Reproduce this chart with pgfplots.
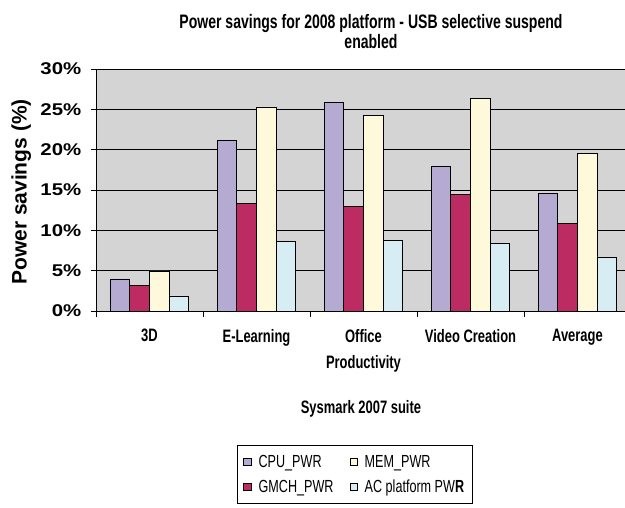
\documentclass[border=0pt]{standalone}
\usepackage{fontspec}
\setmainfont{Liberation Sans}
\newfontfamily\narrowfont{Liberation Sans}[FakeStretch=0.72]
\newfontfamily\widefont{Liberation Sans}[FakeStretch=1.2]
\usepackage{pgfplots}
\pgfplotsset{compat=1.18}

\definecolor{plotgray}{RGB}{212,212,212}
\definecolor{cpucol}{RGB}{180,170,210}
\definecolor{gmchcol}{RGB}{188,44,99}
\definecolor{memcol}{RGB}{255,249,219}
\definecolor{accol}{RGB}{216,236,243}

% small outlined squares for the legend
\pgfplotsset{sqlegend/.style={legend image code/.code={%
  \draw[##1,draw=black,line width=0.8pt] (0pt,-3.7pt) rectangle (7.4pt,3.7pt);}}}

\begin{document}
\begin{tikzpicture}
\useasboundingbox (0pt,0pt) rectangle (625pt,-508pt);
\fill[white] (0pt,0pt) rectangle (625pt,-508pt);
\clip (0pt,0pt) rectangle (625pt,-508pt);
\begin{axis}[
  at={(96pt,-311pt)}, anchor=south west,
  scale only axis, width=535pt, height=242pt,
  xmin=-0.5, xmax=4.5, ymin=0, ymax=30,
  ybar=0pt, bar width=19.6pt,
  axis background/.style={fill=plotgray},
  axis x line=bottom, axis y line=left,
  axis line style={-, line width=0.8pt, black},
  tick align=outside, major tick length=5pt,
  ymajorgrids, grid style={black, line width=0.8pt},
  ytick={0,5,...,30},
  yticklabels={0\%,5\%,10\%,15\%,20\%,25\%,30\%},
  y tick style={black, line width=0.8pt},
  yticklabel style={font=\widefont\bfseries\fontsize{17}{17}\selectfont,
    inner sep=0pt, anchor=east, xshift=-9.5pt},
  xtick={0,...,4},
  xticklabels={3D, E-Learning, Office\\Productivity, Video Creation, Average},
  x tick style={draw=none},
  xticklabel style={font=\narrowfont\bfseries\fontsize{18}{26}\selectfont,
    align=center, inner sep=0pt, anchor=north, yshift=-13pt},
  extra x ticks={-0.5,0.5,1.5,2.5,3.5,4.5},
  extra x tick labels={},
  extra x tick style={major tick length=6pt,
    x tick style={draw=black, line width=0.8pt}, grid=none},
  title={Power savings for 2008 platform - USB selective suspend\\enabled},
  title style={at={(0.514,1.2)}, anchor=north, align=center, inner sep=0pt,
    font=\narrowfont\bfseries\fontsize{19.5}{20}\selectfont},
  ylabel={Power savings (\%)},
  ylabel style={at={(-0.1398,0.4917)}, anchor=center, inner sep=0pt,
    font=\bfseries\fontsize{21}{21}\selectfont},
  xlabel={Sysmark 2007 suite},
  xlabel style={at={(0.4953,-0.4215)}, anchor=base, inner sep=0pt,
    font=\narrowfont\bfseries\fontsize{18}{18}\selectfont},
  legend columns=2, transpose legend,
  legend cell align=left,
  legend style={at={(0.2636,-0.5517)}, anchor=north west,
    draw=black, line width=0.8pt, fill=white,
    font=\narrowfont\fontsize{17.5}{17.5}\selectfont,
    inner xsep=6pt, inner ysep=8pt, row sep=7pt,
    /tikz/every odd column/.append style={column sep=5pt},
    /tikz/every even column/.append style={column sep=14pt}},
]
\addplot[fill=cpucol, draw=black, line width=0.8pt, sqlegend]
  coordinates {(0,3.97) (1,21.1) (2,25.9) (3,17.9) (4,14.6)};
\addplot[fill=gmchcol, draw=black, line width=0.8pt, sqlegend]
  coordinates {(0,3.14) (1,13.3) (2,13.0) (3,14.5) (4,10.9)};
\addplot[fill=memcol, draw=black, line width=0.8pt, sqlegend]
  coordinates {(0,4.96) (1,25.3) (2,24.2) (3,26.3) (4,19.5)};
\addplot[fill=accol, draw=black, line width=0.8pt, sqlegend]
  coordinates {(0,1.86) (1,8.65) (2,8.8) (3,8.4) (4,6.7)};
\legend{CPU\_PWR, GMCH\_PWR, MEM\_PWR, AC platform PW\textbf{R}}
\end{axis}
\end{tikzpicture}
\end{document}
